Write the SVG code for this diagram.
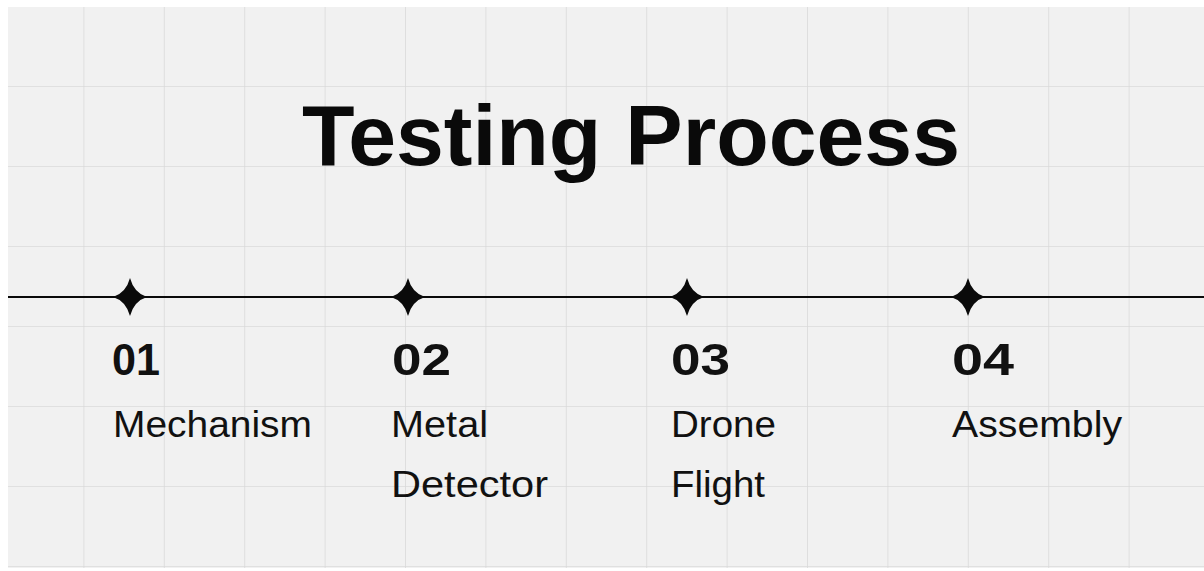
<svg xmlns="http://www.w3.org/2000/svg" width="1204" height="571" viewBox="0 0 1204 571">
<defs>
<pattern id="grid" x="4" y="7" width="80.4" height="80" patternUnits="userSpaceOnUse">
<path d="M80.4 0 V80 M0 80 H80.4" fill="none" stroke="#dadada" stroke-width="1.6"/>
</pattern>
<path id="star" d="M0 -19 Q4 -4 17 0 Q4 4 0 19 Q-4 4 -17 0 Q-4 -4 0 -19 Z"/>
<style>
.title{font-family:"Liberation Sans",Arial,sans-serif;font-weight:700;font-size:86px;fill:#0a0a0a}
.num{font-family:"Liberation Sans",Arial,sans-serif;font-weight:700;font-size:45px;fill:#111}
.lbl{font-family:"Liberation Sans",Arial,sans-serif;font-size:36px;fill:#111}
.star{fill:#0a0a0a}
</style>
</defs>
<rect width="1204" height="571" fill="#ffffff"/>
<rect x="8" y="7" width="1196" height="561" fill="#f1f1f1"/>
<rect x="8" y="7" width="1196" height="561" fill="url(#grid)"/>
<text class="title" x="631" y="165" text-anchor="middle">Testing Process</text>
<g id="connectors">
<line x1="8" y1="297" x2="1204" y2="297" stroke="#0a0a0a" stroke-width="2.2"/>
</g>
<g id="step1">
<use href="#star" class="star" x="130" y="297"/>
<text class="num" x="112" y="375" textLength="48" lengthAdjust="spacingAndGlyphs">01</text>
<text class="lbl" x="113" y="437" textLength="199" lengthAdjust="spacingAndGlyphs">Mechanism</text>
</g>
<g id="step2">
<use href="#star" class="star" x="408" y="297"/>
<text class="num" x="392" y="375" textLength="59" lengthAdjust="spacingAndGlyphs">02</text>
<text class="lbl" x="391" y="437" textLength="97" lengthAdjust="spacingAndGlyphs">Metal</text>
<text class="lbl" x="391" y="497" textLength="157" lengthAdjust="spacingAndGlyphs">Detector</text>
</g>
<g id="step3">
<use href="#star" class="star" x="687" y="297"/>
<text class="num" x="671" y="375" textLength="59" lengthAdjust="spacingAndGlyphs">03</text>
<text class="lbl" x="671" y="437" textLength="105" lengthAdjust="spacingAndGlyphs">Drone</text>
<text class="lbl" x="671" y="497" textLength="94" lengthAdjust="spacingAndGlyphs">Flight</text>
</g>
<g id="step4">
<use href="#star" class="star" x="968" y="297"/>
<text class="num" x="952" y="375" textLength="62" lengthAdjust="spacingAndGlyphs">04</text>
<text class="lbl" x="952" y="437" textLength="170" lengthAdjust="spacingAndGlyphs">Assembly</text>
</g>
</svg>
